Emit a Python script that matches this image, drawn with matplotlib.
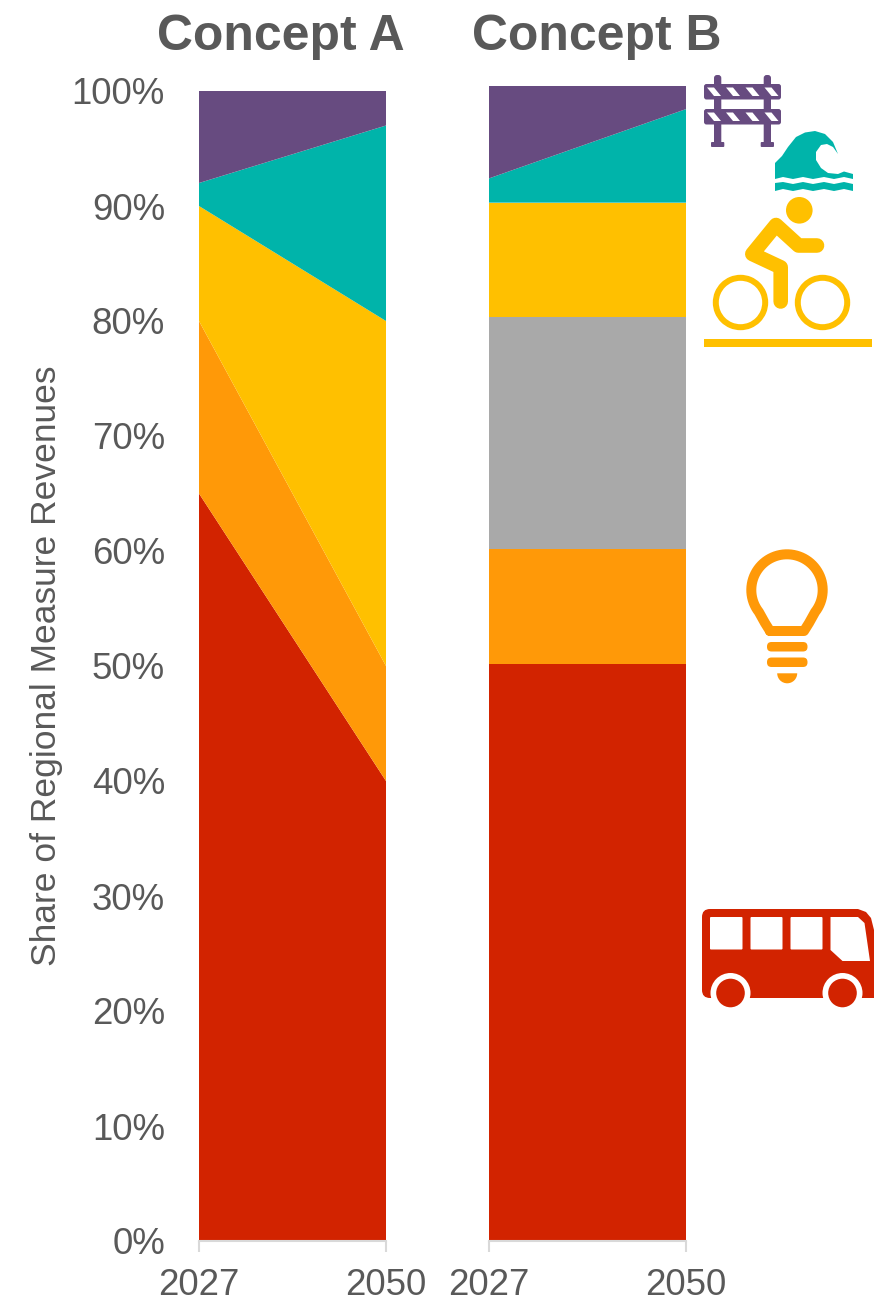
import numpy as np
import matplotlib
matplotlib.use("Agg")
import matplotlib.pyplot as plt
from matplotlib.patches import Circle, FancyBboxPatch, Polygon, Rectangle, Wedge

plt.rcParams['font.family'] = ['Liberation Sans', 'DejaVu Sans']

years = [2027, 2050]
yticks = [0, 10, 20, 30, 40, 50, 60, 70, 80, 90, 100]
ylabels = ["0%", "10%", "20%", "30%", "40%", "50%", "60%", "70%", "80%", "90%", "100%"]

# share by category, 2027 and 2050
a_transit = [65, 40]
a_energy = [15, 10]
a_other = [0, 0]
a_bike = [10, 30]
a_sea = [2, 17]
a_road = [8, 3]

b_transit = [50, 50]
b_energy = [9.9, 9.9]
b_other = [20.1, 20.1]
b_bike = [9.9, 9.9]
b_sea = [2.1, 8.1]
b_road = [8, 2]

RED = "#D22300"
ORANGE = "#FF9908"
GRAY = "#A9A9A9"
YELLOW = "#FFC000"
TEAL = "#00B4AA"
PURPLE = "#674B80"
colors = [RED, ORANGE, GRAY, YELLOW, TEAL, PURPLE]
TEXT = "#595959"
AXIS = "#D9D9D9"

W, H = 874, 1301
fig = plt.figure(figsize=(W / 100, H / 100), dpi=100)


def make_axes(left, right, top, bottom):
    return fig.add_axes([left / W, 1 - bottom / H, (right - left) / W, (bottom - top) / H])


def style(ax):
    ax.set_xlim(years[0], years[1])
    ax.set_ylim(0, 100)
    ax.set_xticks(years)
    for s in ['top', 'left', 'right']:
        ax.spines[s].set_visible(False)
    ax.spines['bottom'].set_color(AXIS)
    ax.spines['bottom'].set_linewidth(1.5)
    ax.tick_params(axis='x', length=8, width=1.5, color=AXIS, pad=11.5, labelsize=26.4, labelcolor=TEXT)


ax1 = make_axes(199, 386, 91, 1241)
ax1.stackplot(years, a_transit, a_energy, a_other, a_bike, a_sea, a_road, colors=colors, linewidth=0)
style(ax1)
ax1.set_yticks(yticks)
ax1.set_yticklabels(ylabels, va='center_baseline')
ax1.tick_params(axis='y', length=0, pad=24.5, labelsize=26.4, labelcolor=TEXT)
ax1.set_ylabel("Share of Regional Measure Revenues", fontsize=25.5, color=TEXT)
ax1.yaxis.set_label_coords((63 - 199) / 187, 0.5)

ax2 = make_axes(489, 686, 86, 1241)
ax2.stackplot(years, b_transit, b_energy, b_other, b_bike, b_sea, b_road, colors=colors, linewidth=0)
style(ax2)
ax2.set_yticks([])

fig.text(280.5 / W, 1 - 49.5 / H, "Concept A", fontsize=35.9, fontweight='bold', color=TEXT, ha='center', va='baseline')
fig.text(597 / W, 1 - 49.5 / H, "Concept B", fontsize=35.9, fontweight='bold', color=TEXT, ha='center', va='baseline')

# icons, drawn in pixel coordinates on an overlay
ov = fig.add_axes([0, 0, 1, 1], facecolor='none')
ov.set_xlim(0, W)
ov.set_ylim(H, 0)
ov.axis('off')


def rect(x0, y0, x1, y1, c, round_px=0.0):
    if round_px:
        ov.add_patch(FancyBboxPatch((x0 + round_px, y0 + round_px), x1 - x0 - 2 * round_px, y1 - y0 - 2 * round_px,
                                    boxstyle="round,pad=%f,rounding_size=%f" % (round_px, round_px), fc=c, ec='none'))
    else:
        ov.add_patch(Rectangle((x0, y0), x1 - x0, y1 - y0, fc=c, ec='none'))


def poly(pts, c):
    ov.add_patch(Polygon(pts, closed=True, fc=c, ec='none'))


# road barrier
for x0, x1 in [(714, 721.3), (763.7, 771)]:
    rect(x0, 75, x1, 146, PURPLE, 3)
    rect(x0 - 3, 142, x1 + 3, 147, PURPLE, 1)
for y0, y1 in [(84, 99.5), (109, 124.5)]:
    rect(704, y0, 781, y1, PURPLE, 2.5)
    for sx in [707, 726, 745.5, 764.5]:
        poly([(sx, y0 + 3.5), (sx + 7, y0 + 3.5), (sx + 14, y1 - 3.5), (sx + 7, y1 - 3.5)], "white")

# wave
poly([(775, 163), (782, 156), (788, 147), (796, 137), (805, 132.5), (815, 131), (825, 134), (833, 142),
      (838, 154), (833, 147), (827, 144), (821, 145), (816, 152), (816, 160), (821, 168), (828, 173),
      (838, 174), (844, 171.5), (853, 174), (853, 179), (844, 177), (834, 179), (824, 177), (813, 179),
      (803, 177), (793, 179), (783, 177), (775, 179)], TEAL)
poly([(775, 183), (783, 182), (793, 184), (803, 182), (813, 184), (824, 182), (834, 184), (844, 182),
      (853, 184), (853, 191), (844, 189), (834, 191), (824, 189), (813, 191), (803, 189), (793, 191),
      (783, 189), (775, 191)], TEAL)

# cyclist
ov.add_patch(Circle((799.3, 210.3), 13.3, fc=YELLOW, ec='none'))
ov.plot([817, 798.5, 776, 752.3, 780.7, 780.7], [245.5, 245.5, 225, 254, 267.3, 301.5],
        color=YELLOW, lw=10.5, solid_capstyle='round', solid_joinstyle='round')
for cx in [740.5, 822.5]:
    ov.add_patch(Wedge((cx, 302.5), 27.7, 0, 360, width=6, fc=YELLOW, ec='none'))
rect(704, 338.5, 872, 347, YELLOW)

# light bulb
ang = np.radians(np.linspace(218, -38, 60))
bx = 787 + 35.7 * np.cos(ang)
by = 590 - 35.7 * np.sin(ang)
bx = np.concatenate([[770, 765], bx, [809, 804, 770]])
by = np.concatenate([[631, 623], by, [623, 631, 631]])
ov.plot(bx, by, color=ORANGE, lw=7.2, solid_capstyle='round', solid_joinstyle='round')
rect(767, 642, 807.5, 651.5, ORANGE, 4.5)
rect(767, 657.5, 807.5, 667, ORANGE, 4.5)
ov.add_patch(Wedge((787.2, 673.3), 10, 0, 180, fc=ORANGE, ec='none'))

# bus
rect(702, 909, 850, 998, RED, 8)
poly([(840, 909), (858, 909), (866, 912), (871, 918), (874, 930), (874, 998), (840, 998)], RED)
for x0, x1 in [(710, 742.5), (750.5, 782.5), (790.5, 822.5)]:
    rect(x0, 917, x1, 949.5, "white", 1)
poly([(830.5, 917), (858, 917), (864.5, 923), (870, 961), (842.5, 961), (830.5, 950)], "white")
for cx in [730.5, 842.5]:
    ov.add_patch(Circle((cx, 993), 20, fc="white", ec='none'))
    ov.add_patch(Circle((cx, 993), 14.3, fc=RED, ec='none'))

fig.savefig("out.png", dpi=100)
plt.close()
